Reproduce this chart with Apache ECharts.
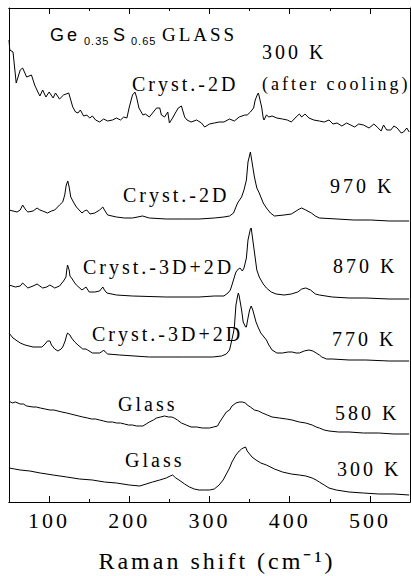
<!DOCTYPE html>
<html><head><meta charset="utf-8">
<script src="https://cdn.jsdelivr.net/npm/echarts@6/dist/echarts.min.js"></script>
<style>
html,body{margin:0;padding:0;background:#fff}
#c{width:411px;height:576px}
#c text{letter-spacing:3px}
#c text[style*="11px"], #c text[font-size="11"], #c text[font-size="11px"]{letter-spacing:1px}
</style>
</head><body><div id="c"></div>
<script>
// Raman shift (cm-1) vs intensity (arbitrary units, curves stacked with offsets)
var majorTicks = [100, 200, 300, 400, 500];
var minorTicks = [150, 250, 350, 450];
var tempLabels = ['300 K', '(after cooling)', '970 K', '870 K', '770 K', '580 K', '300 K'];
var phaseLabels = ['Cryst.-2D', 'Cryst.-2D', 'Cryst.-3D+2D', 'Cryst.-3D+2D', 'Glass', 'Glass'];
var axisTitle = 'Raman shift (cm\u207B\u00B9)';

var spec300after = [[50,462],[51,452],[55,450],[59,419],[64,432],[67,434],[72,425],[78,427],[82,417],[86,410],[88.5,406],[92,412],[96,405],[100,410],[105,404],[108,409],[113,403],[118,407],[124.5,409],[129.5,395],[133,390],[136,389],[139,392],[143,386],[147,387],[150.6,384],[154,386],[158,382],[163,380],[168,383],[173,381],[179,382],[184,384],[189,382],[193,385],[197,384],[200,395],[204,407],[207,410],[209,405],[212,394],[217,387],[220,388],[225,385],[230,390],[234,394],[238,394],[240,387],[244,385],[248,390],[250,379],[254,384],[256,387],[261,394],[265,396],[269,385],[272,382],[277,380],[284,382],[290,379],[294,375],[300,378],[306,379],[312,380],[318,380],[325,383],[331,381],[337,385],[344,387],[347,387],[351,390],[355,394],[357,402],[360,408],[361,409],[363,402],[365,395],[367,384],[368,382],[371,387],[374,385],[378,386],[384,384],[391,383],[397,382],[402,380],[408,385],[412,388],[415,385],[419,388],[424,384],[430,382],[437,381],[443,380],[449,382],[454,378],[459,379],[465,376],[471,379],[476,377],[481,375],[486,378],[492,377],[499,374],[505,378],[509,375],[514,371],[517,377],[521,372],[526,372],[530,376],[534,374],[539,369],[542,370],[546,374],[549,370]];

var spec970 = [[50,292],[60,290],[64,292],[67,297],[71,292],[73.5,290],[80,291],[85,294],[88.5,292],[92,291],[98,289],[103,291],[107,292],[113,297],[117,300],[119.5,307],[121.4,317],[123.3,321],[125,315],[127,305],[131,299],[134,295],[141,289],[144,291],[147,292],[151,288],[157,289],[163,292],[167,295],[169,292],[173,287],[184,285],[194,284],[204,284],[216.5,286],[225,284],[246,283],[266,283],[287,283],[306,284],[318,285],[325,286],[330,289],[335,299],[340,305],[343,312],[346,322],[348,340],[351,350],[353,340],[356,325],[359,314],[362,309],[367,299],[371,294],[376,289],[381,286],[393,287],[402,288],[408,291],[412,293],[415,294],[420,292],[427,289],[432,286],[437,284],[459,283],[480,282],[501,282],[524,281],[549,281]];

var spec870 = [[50,217],[58,215],[64,216],[67,219],[71,216],[73.5,214],[80,216],[85,218],[88.5,216],[92,214],[97,215],[101,217],[105,215],[107,214],[113,216],[116,219],[118,221],[121,225],[122,232],[123,237],[125,232],[126,226],[128,224],[132,219],[134,217],[141,212],[146,215],[150,210],[157,210],[163,211],[167,215],[169,212],[172,209],[184,207],[204,206],[246,205],[287,205],[306,206],[318,206],[323,209],[326,212],[328,217],[331,225],[333,230],[336,233],[338,234],[341,231],[343,234],[346,244],[348,262],[351,273],[352,274],[354,262],[357,244],[359,232],[362,225],[367,218],[371,214],[377,210],[383,208],[393,207],[402,208],[410,210],[415,213],[420,214],[426,212],[432,208],[437,207],[453,205],[474,204],[495,204],[524,203],[549,203]];

var spec770 = [[50,169],[55,164],[64,159],[70,157],[80,155],[91,155],[95,158],[98,161],[101,161],[103,157],[107,153],[111,151],[115,153],[117,155],[120,161],[122,167],[123,169],[126,167],[128,164],[132,160],[136,157],[142,153],[146,153],[148,152],[154,149],[163,149],[167,151],[168,152],[170,150],[173,148],[188,147],[225,145],[266,145],[304,145],[315,146],[321,148],[325,152],[327,159],[330,170],[331,175],[332,186],[333,197],[335,206],[336,209],[337,206],[340,192],[342,180],[345,175],[346,175],[348,184],[350,192],[352,196],[354,192],[356,186],[358,180],[361,174],[364,169],[367,166],[371,162],[374,157],[378,152],[384,149],[391,149],[398,150],[403,150],[408,149],[412,149],[418,151],[424,152],[429,151],[433,149],[437,147],[440,145],[446,143],[453,143],[474,142],[495,142],[524,141],[549,141]];

var spec580 = [[50,101],[54,99],[58,100],[64,98],[68,98],[72,96],[80,95],[84,95],[89,94],[95,93],[101,92],[106,92],[111,91],[116,90],[122,89],[127,88],[132,87],[137,86],[142,85],[148,84],[153,83],[158,83],[163,82],[168,81],[173,80],[179,80],[184,79],[189,79],[194,78],[199,77],[204,77],[209,76],[213,76],[217,76],[221,78],[225,80],[230,82],[234,84],[239,85],[244,86],[249,85],[253,85],[256,84],[260,82],[265,79],[271,77],[277,75],[284,75],[291,74],[300,74],[305,75],[310,76],[312,79],[316,84],[321,90],[325,92],[328,96],[333,99],[337,100],[341,100],[345,99],[347,97],[351,95],[356,92],[361,91],[366,89],[372,87],[378,85],[387,84],[396,83],[403,82],[412,80],[420,79],[428,77],[433,75],[437,74],[443,72],[449,71],[461,70],[474,70],[492,69],[511,69],[530,68],[549,68]];

var spec300 = [[50,34],[57,33],[64,32],[76,31],[89,29],[105,27],[122,25],[138,23],[154,22],[169,20],[184,19],[200,17],[213,16],[221,18],[229,20],[238,22],[246,24],[251,26],[254,27],[258,24],[262,22],[269,18],[275,15],[281,13],[287,12],[294,12],[300,12],[306,13],[312,17],[317,22],[321,28],[325,34],[328,40],[333,47],[337,51],[340,53],[342,54],[345,55],[347,51],[350,48],[353,45],[358,42],[364,39],[371,37],[381,33],[391,30],[402,28],[412,27],[420,26],[428,24],[433,22],[437,20],[443,17],[449,14],[458,12],[474,10],[492,9],[511,8],[530,8],[549,7]];

var seriesData = [spec300after, spec970, spec870, spec770, spec580, spec300];

var serif = 'Liberation Serif, Times New Roman, serif';
var sans = 'Liberation Sans, Arial, sans-serif';
var black = '#000';

function txt(text, x, y, size, family) {
  return {
    type: 'text', x: x, y: y, silent: true,
    style: { text: text, fontSize: size, fontFamily: family, fill: black,
      align: 'left', verticalAlign: 'middle', textAlign: 'left', textVerticalAlign: 'middle' }
  };
}

var graphics = [
  txt('Ge', 50, 34.5, 18, sans),
  txt('0.35', 84, 41, 11, sans),
  txt('S', 113, 34.5, 18, sans),
  txt('0.65', 131, 41, 11, sans),
  txt('GLASS', 162, 34, 19, serif),
  txt(tempLabels[0], 262, 52, 20, serif),
  txt(tempLabels[1], 262, 84, 18, serif),
  txt(phaseLabels[0], 132, 84, 20, serif),
  txt(phaseLabels[1], 123, 195, 20, serif),
  txt(tempLabels[2], 330, 186, 20, serif),
  txt(phaseLabels[2], 83, 267, 20, serif),
  txt(tempLabels[3], 333, 266, 20, serif),
  txt(phaseLabels[3], 92, 334, 20, serif),
  txt(tempLabels[4], 332, 339, 20, serif),
  txt(phaseLabels[4], 118, 404, 20, serif),
  txt(tempLabels[5], 335, 413, 20, serif),
  txt(phaseLabels[5], 125, 460, 20, serif),
  txt(tempLabels[6], 337, 469, 20, serif),
  {
    type: 'text', x: 217, y: 561, silent: true,
    style: { text: axisTitle, fontSize: 24, fontFamily: serif, fill: black,
      align: 'center', verticalAlign: 'middle', textAlign: 'center', textVerticalAlign: 'middle' }
  }
];

function xAx(pos, ticks, len, labels) {
  return {
    type: 'value', position: pos, min: 50, max: 550, gridIndex: 0,
    axisLine: { show: true, onZero: false, lineStyle: { color: black, width: 1 } },
    axisTick: { show: true, inside: true, length: len, customValues: ticks, lineStyle: { color: black, width: 1 } },
    axisLabel: labels ? { show: true, customValues: ticks, color: black, fontFamily: serif, fontSize: 22, margin: 7 } : { show: false },
    splitLine: { show: false }, minorTick: { show: false }
  };
}
function yAx(pos) {
  return {
    type: 'value', position: pos, min: 0, max: 494,
    axisLine: { show: true, onZero: false, lineStyle: { color: black, width: 1 } },
    axisTick: { show: false }, axisLabel: { show: false }, splitLine: { show: false }
  };
}

var chart = echarts.init(document.getElementById('c'), null, { renderer: 'svg', width: 411, height: 576 });
chart.setOption({
  animation: false,
  backgroundColor: '#fff',
  grid: { left: 9, right: 1, top: 8, bottom: 74, containLabel: false, outerBoundsMode: 'none' },
  xAxis: [ xAx('bottom', majorTicks, 6, true), xAx('bottom', minorTicks, 3, false),
           xAx('top', majorTicks, 6, false), xAx('top', minorTicks, 3, false) ],
  yAxis: [ yAx('left'), yAx('right') ],
  series: seriesData.map(function (d) {
    return { type: 'line', data: d, xAxisIndex: 0, yAxisIndex: 0, symbol: 'none', showSymbol: false,
      silent: true, lineStyle: { color: black, width: 1 } };
  }),
  graphic: graphics
});
</script>
</body></html>
